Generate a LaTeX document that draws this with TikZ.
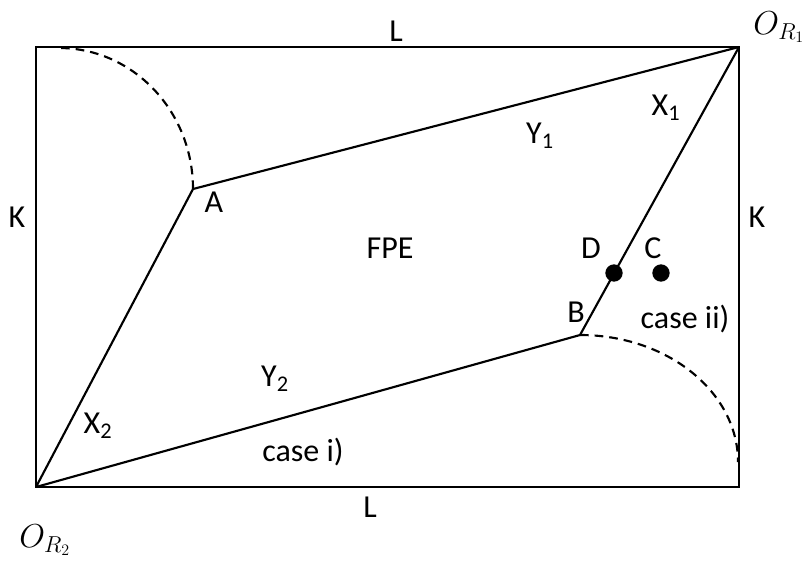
\documentclass[tikz,border=0pt]{standalone}
\usepackage{fontspec}
\setmainfont{Carlito}
\usetikzlibrary{positioning}

\begin{document}
\begin{tikzpicture}[x=0.75pt,y=-0.75pt]
			\tikzset{line/.style={draw,line width=1.6pt}}
			\tikzset{arc/.style={line,dash pattern=on 6.5pt off 4.5pt}}
			\tikzset{dot/.style={shape=circle,fill=black,inner sep=0pt,minimum width=13pt}}
			\tikzset{lbl/.style={inner sep=0pt,font=\fontsize{24}{28}\selectfont}}

			\useasboundingbox (0,0) rectangle (806,562);

			% corners of the box
			\coordinate (oR1) at (739,47);
			\coordinate (oR2) at (36,487);
			\coordinate (A) at (193,189);
			\coordinate (B) at (580,335);

			\draw[line] (oR2) rectangle (oR1);

			\path[line] (oR2) to (A);
			\path[line] (A) to (oR1);
			\path[line] (oR2) to (B);
			\path[line] (B) to (oR1);

			% dashed arcs
			\draw[arc] (A) arc[start angle=0,end angle=-90,x radius=134,y radius=141];
			\draw[arc] (B) arc[start angle=-90,end angle=0,x radius=158,y radius=127];

			\node[dot] (D) at (614,273) {};
			\node[dot] (C) at (661,273) {};

			\node[lbl] (Ltop) at (396,31) {L};
			\node[lbl] (Lbot) at (370,507) {L};
			\node[lbl] (Kleft) at (17,217) {K};
			\node[lbl] (Kright) at (757,217) {K};
			\node[lbl] (o1) at (779,27) {$O_{R_1}$};
			\node[lbl] (o2) at (45,540) {$O_{R_2}$};
			\node[lbl] (y1) at (540,136) {Y\textsubscript{1}};
			\node[lbl] (x1) at (666,108) {X\textsubscript{1}};
			\node[lbl] (y2) at (275,379) {Y\textsubscript{2}};
			\node[lbl] (x2) at (98,426) {X\textsubscript{2}};
			\node[lbl] (fpe) at (390,248) {FPE};
			\node[lbl] (lA) at (214,202) {A};
			\node[lbl] (lB) at (576,312) {B};
			\node[lbl] (lC) at (653,248) {C};
			\node[lbl] (lD) at (591,248) {D};
			\node[lbl] (c1) at (303,452) {case i)};
			\node[lbl] (c2) at (685,319) {case ii)};
		\end{tikzpicture}
\end{document}
